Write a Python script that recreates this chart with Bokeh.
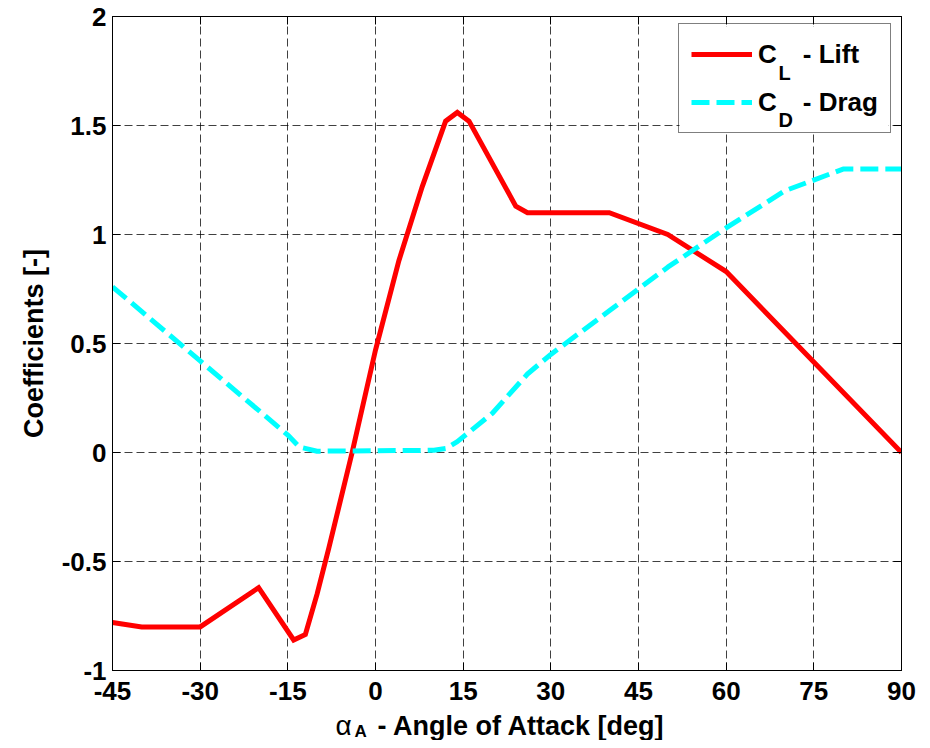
from bokeh.plotting import figure
from bokeh.layouts import column
from bokeh.models import (Range1d, FixedTicker, LinearAxis, Legend, LegendItem,
                          BoxAnnotation, CustomJSTickFormatter)
from bokeh.core.properties import value
from bokeh.embed import file_html
from bokeh.resources import INLINE

# ---- data ----
alpha_cl = [-45, -40, -30, -20, -14, -12, -10, -8, -4, 0, 4, 8, 12, 14, 16, 24, 26, 40, 50, 60, 90]
cl = [-0.78, -0.80, -0.80, -0.62, -0.86, -0.835, -0.65, -0.44, 0.0, 0.47, 0.88, 1.22,
      1.52, 1.56, 1.52, 1.13, 1.10, 1.10, 1.00, 0.83, 0.0]

alpha_cd = [-45, -30, -15, -13, -10, 10, 12, 14, 20, 26, 30, 40, 50, 60, 70, 80, 90]
cd = [0.76, 0.42, 0.08, 0.025, 0.006, 0.01, 0.018, 0.05, 0.18, 0.36, 0.45, 0.65,
      0.85, 1.03, 1.20, 1.30, 1.30]

x_ticks = [-45, -30, -15, 0, 15, 30, 45, 60, 75, 90]
y_ticks = [-1, -0.5, 0, 0.5, 1, 1.5, 2]
y_tick_labels = ["-1", "-0.5", "0", "0.5", "1", "1.5", "2"]
x_tick_labels = ["-45", "-30", "-15", "0", "15", "30", "45", "60", "75", "90"]

FONT = "Liberation Sans"
W = 918

p = figure(width=W, height=704, output_backend="svg", toolbar_location=None,
           x_range=Range1d(-45, 90), y_range=Range1d(-1, 2),
           min_border_left=112, min_border_right=17, min_border_top=16,
           min_border_bottom=34)
p.background_fill_color = "white"
p.border_fill_color = "white"
p.outline_line_color = "black"
p.outline_line_width = 1

# main axes
for ax, ticks, labels in ((p.xaxis[0], x_ticks, x_tick_labels), (p.yaxis[0], y_ticks, y_tick_labels)):
    ax.ticker = FixedTicker(ticks=ticks)
    ax.major_label_overrides = {t: l for t, l in zip(ticks, labels)}
    ax.major_label_text_font = FONT
    ax.major_label_text_font_style = "bold"
    ax.major_label_text_font_size = "26px"
    ax.major_label_text_color = "black"
    ax.major_tick_in = 8
    ax.major_tick_out = 0
    ax.minor_tick_line_color = None
    ax.axis_line_color = "black"
    ax.major_tick_line_color = "black"
    ax.major_label_standoff = 6

p.xaxis[0].major_label_standoff = 11
p.yaxis[0].axis_label = "Coefficients [-]"
p.yaxis[0].axis_label_text_font = FONT
p.yaxis[0].axis_label_text_font_style = "bold"
p.yaxis[0].axis_label_text_font_size = "27px"
p.yaxis[0].axis_label_text_color = "black"
p.yaxis[0].axis_label_standoff = 10

# mirrored ticks on top and right (no labels)
empty = CustomJSTickFormatter(code="return ''")
top = LinearAxis(ticker=FixedTicker(ticks=x_ticks), formatter=empty)
right = LinearAxis(ticker=FixedTicker(ticks=y_ticks), formatter=empty)
for ax in (top, right):
    ax.major_tick_in = 8
    ax.major_tick_out = 0
    ax.minor_tick_line_color = None
    ax.major_label_standoff = 0
    ax.major_label_text_font_size = "0px"
    ax.axis_line_color = "black"
p.add_layout(top, "above")
p.add_layout(right, "right")

# grid
for g in (p.xgrid[0], p.ygrid[0]):
    g.grid_line_color = "black"
    g.grid_line_alpha = 0.75
    g.grid_line_dash = "8 4"
    g.grid_line_width = 1
p.xgrid[0].ticker = FixedTicker(ticks=x_ticks)
p.ygrid[0].ticker = FixedTicker(ticks=y_ticks)

# white panel behind the legend (covers the grid; drawn before glyphs)
p.add_layout(BoxAnnotation(left=52.02, right=87.78, top=1.954, bottom=1.468,
                           fill_color="white", fill_alpha=1, line_color=None,
                           level="underlay"))

r_cl = p.line(alpha_cl, cl, line_color="#ff0000", line_width=5, line_join="miter")
r_cd = p.line(alpha_cd, cd, line_color="#00ffff", line_width=5, line_dash="18 7")

# legend subscripts
p.text(x=[68.95, 68.95], y=[1.743, 1.523], text=["L", "D"], text_font=value(FONT),
       text_font_size="20px", text_font_style="bold", text_color="black",
       text_baseline="alphabetic", text_align="left")

legend = Legend(items=[LegendItem(label="C\u2002\u2002- Lift", renderers=[r_cl]),
                       LegendItem(label="C\u2002\u2002- Drag", renderers=[r_cd])],
                location=(566, 537))
legend.label_text_font = FONT
legend.label_text_font_style = "bold"
legend.label_text_font_size = "26px"
legend.label_text_color = "black"
legend.glyph_width = 61
legend.glyph_height = 36
legend.label_height = 36
legend.spacing = 12
legend.padding = 12
legend.margin = 0
legend.label_standoff = 6
legend.border_line_color = "black"
legend.border_line_width = 1.5
legend.background_fill_alpha = 0
p.add_layout(legend)

# x-axis title strip (with subscript); its frame lines up with the plot frame
H2 = 36
q = figure(width=W, height=H2, output_backend="svg", toolbar_location=None,
           x_range=Range1d(112, 901), y_range=Range1d(H2, 0),
           x_axis_type=None, y_axis_type=None, min_border=0)
q.grid.visible = False
q.outline_line_color = None
q.background_fill_color = "white"
q.border_fill_color = "white"
q.text(x=[335], y=[21], text=["\u03b1"], text_font=value(FONT), text_font_size="28px",
       text_color="black", text_baseline="alphabetic", text_align="left")
q.text(x=[354], y=[27], text=["A"], text_font=value(FONT), text_font_size="17px",
       text_font_style="bold", text_color="black", text_baseline="alphabetic",
       text_align="left")
q.text(x=[377], y=[21], text=["- Angle of Attack [deg]"], text_font=value(FONT),
       text_font_size="27px", text_font_style="bold", text_color="black",
       text_baseline="alphabetic", text_align="left")

layout = column(p, q, spacing=0)
open("out.html", "w").write(file_html(layout, INLINE))
